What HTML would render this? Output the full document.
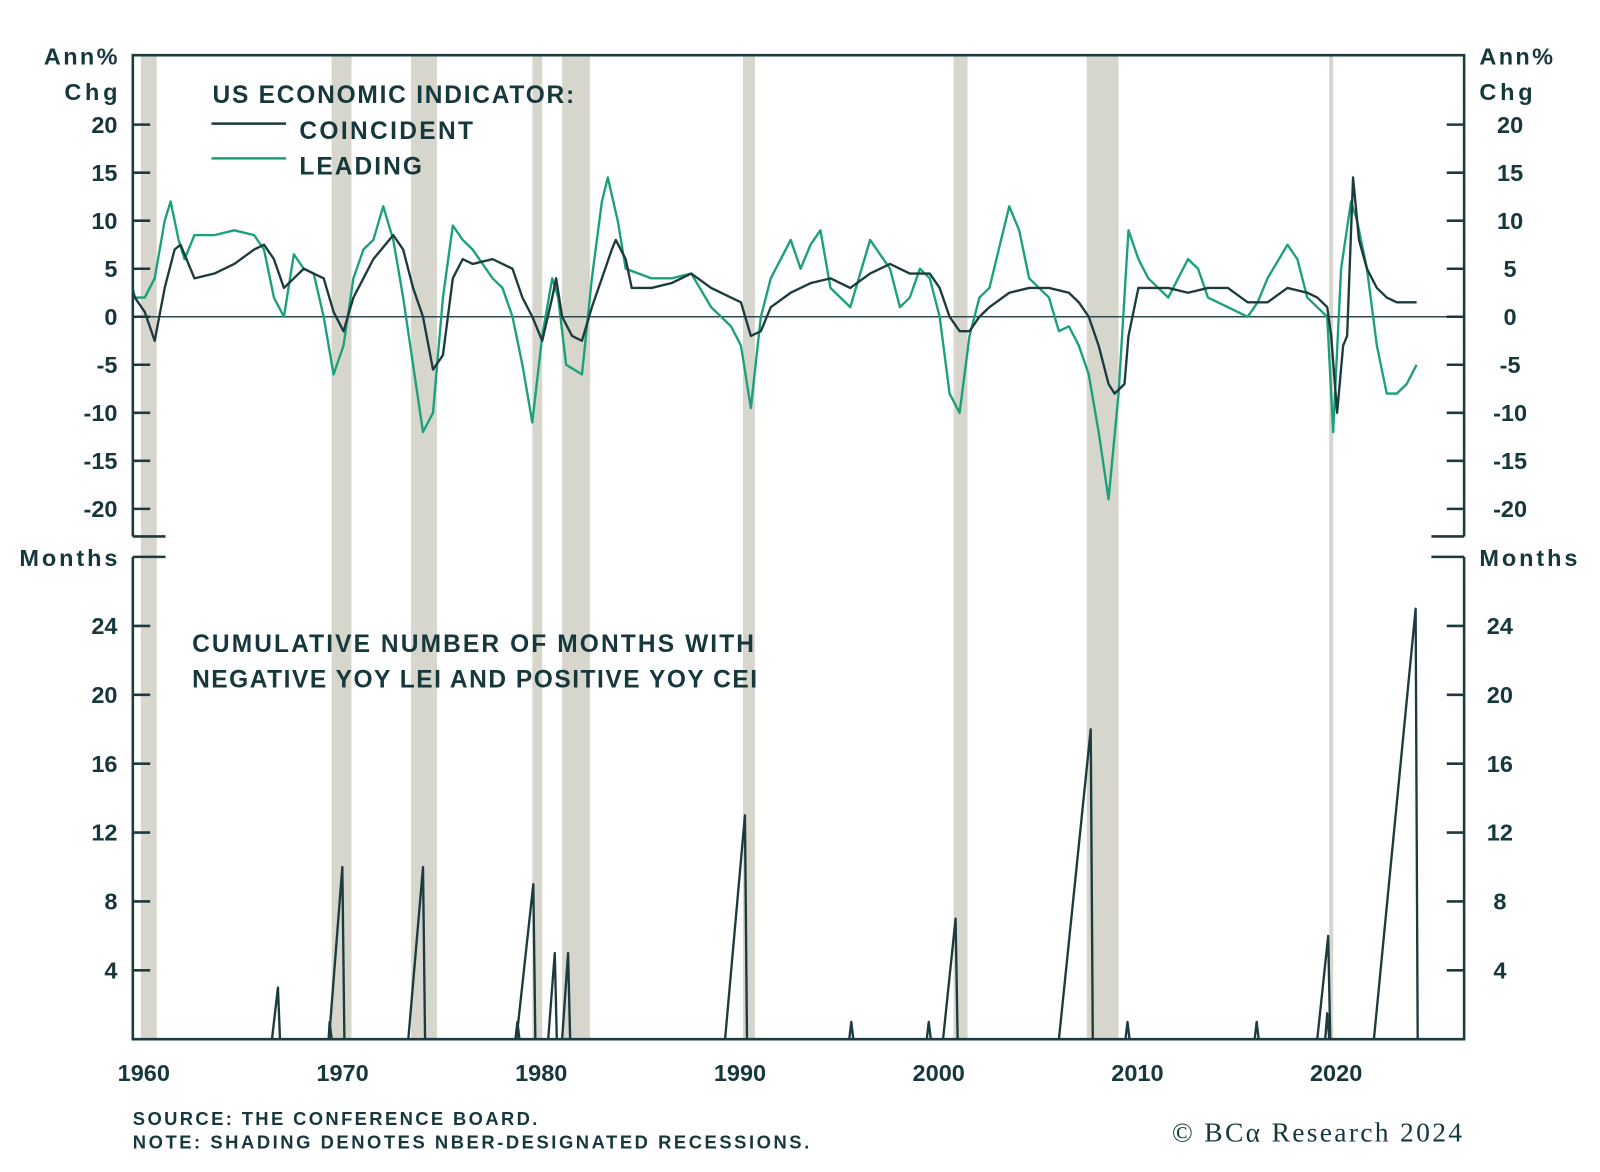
<!DOCTYPE html>
<html><head><meta charset="utf-8"><style>
html,body{margin:0;padding:0;background:#fff}
svg{display:block}
text{font-family:"Liberation Sans",sans-serif;fill:#16383d}
</style></head><body>
<svg id="chart" width="1600" height="1172" viewBox="0 0 1566 1147" preserveAspectRatio="none" xmlns="http://www.w3.org/2000/svg">
<defs>
<clipPath id="topClip"><rect x="130" y="54" width="1303" height="471"/></clipPath>
<clipPath id="botClip"><rect x="130" y="545" width="1303" height="472"/></clipPath>
</defs>
<g id="shading"></g>
<line x1="130" y1="310" x2="1433" y2="310" stroke="#2c4a50" stroke-width="1.5"/>
<g id="series" clip-path="url(#topClip)"></g>
<g id="spikes" clip-path="url(#botClip)"></g>
<g id="frame" stroke="#1d3a3f" stroke-width="2.5" fill="none">
<polyline points="130,525 130,54 1433,54 1433,525"/>
<line x1="130" y1="525" x2="162" y2="525"/>
<line x1="1401" y1="525" x2="1433" y2="525"/>
<line x1="130" y1="545" x2="162" y2="545"/>
<line x1="1401" y1="545" x2="1433" y2="545"/>
<polyline points="130,545 130,1017 1433,1017 1433,545"/>
</g>
<g id="ticks"></g>
<text x="115" y="63" text-anchor="end" font-size="23" font-weight="bold" textLength="72">Ann%</text>
<text x="115" y="98" text-anchor="end" font-size="23" font-weight="bold" textLength="52">Chg</text>
<text x="1448" y="63" font-size="23" font-weight="bold" textLength="72">Ann%</text>
<text x="1448" y="98" font-size="23" font-weight="bold" textLength="52">Chg</text>
<text x="115" y="554" text-anchor="end" font-size="23" font-weight="bold" textLength="96">Months</text>
<text x="1448" y="554" font-size="23" font-weight="bold" textLength="96">Months</text>
<g>
<text x="208" y="101" font-size="24" font-weight="bold" textLength="354">US ECONOMIC INDICATOR:</text>
<line x1="207" y1="121" x2="280" y2="121" stroke="#1d3a3f" stroke-width="2.5"/>
<text x="293" y="136" font-size="24" font-weight="bold" textLength="170">COINCIDENT</text>
<line x1="207" y1="155" x2="280" y2="155" stroke="#1aa07a" stroke-width="2.5"/>
<text x="293" y="171" font-size="24" font-weight="bold" textLength="120">LEADING</text>
</g>
<text x="188" y="638" font-size="24" font-weight="bold" textLength="550">CUMULATIVE NUMBER OF MONTHS WITH</text>
<text x="188" y="673" font-size="24" font-weight="bold" textLength="553">NEGATIVE YOY LEI AND POSITIVE YOY CEI</text>
<text x="130" y="1101" font-size="18" font-weight="bold" textLength="396">SOURCE: THE CONFERENCE BOARD.</text>
<text x="130" y="1124" font-size="18" font-weight="bold" textLength="662">NOTE: SHADING DENOTES NBER-DESIGNATED RECESSIONS.</text>
<text x="1431" y="1117" text-anchor="end" font-size="27" style="font-family:'Liberation Serif',serif" textLength="284">© BCα Research 2024</text>
</svg>
<script>
const recStart=[1960.3,1969.9,1973.9,1980.0,1981.5,1990.6,2001.2,2007.9,2020.1];
const recEnd=[1961.1,1970.9,1975.2,1980.5,1982.9,1991.2,2001.9,2009.5,2020.3];
const coinT=[1959.5,1960,1960.5,1961,1961.5,1962,1962.3,1963,1964,1965,1966,1966.5,1967,1967.5,1968,1968.5,1969,1969.5,1970,1970.5,1971,1971.5,1972,1973,1973.5,1974,1974.5,1975,1975.5,1976,1976.5,1977,1978,1979,1979.5,1980,1980.5,1981,1981.2,1981.5,1982,1982.5,1983,1983.5,1984,1984.2,1984.7,1985,1986,1987,1988,1989,1990,1990.5,1991,1991.5,1992,1993,1994,1995,1996,1997,1998,1999,2000,2000.5,2001,2001.5,2002,2002.5,2003,2004,2005,2006,2007,2007.5,2008,2008.5,2009,2009.3,2009.8,2010,2010.5,2011,2012,2013,2014,2015,2016,2017,2018,2019,2019.5,2020,2020.2,2020.5,2020.8,2021,2021.3,2021.6,2022,2022.5,2023,2023.5,2024,2024.5];
const coinV=[5,2,0.5,-2.5,3,7,7.5,4,4.5,5.5,7,7.5,6,3,4,5,4.5,4,0.5,-1.5,2,4,6,8.5,7,3,0,-5.5,-4,4,6,5.5,6,5,2,0,-2.5,2,4,0,-2,-2.5,1,4,7,8,6,3,3,3.5,4.5,3,2,1.5,-2,-1.5,1,2.5,3.5,4,3,4.5,5.5,4.5,4.5,3,0,-1.5,-1.5,0,1,2.5,3,3,2.5,1.5,0,-3,-7,-8,-7,-2,3,3,3,2.5,3,3,1.5,1.5,3,2.5,2,1,-2,-10,-3,-2,14.5,8,5,3,2,1.5,1.5,1.5];
const leadT=[1959.5,1960,1960.5,1961,1961.5,1961.8,1962.2,1962.5,1963,1964,1965,1966,1966.5,1967,1967.5,1968,1968.5,1969,1969.5,1970,1970.5,1971,1971.5,1972,1972.5,1973,1973.5,1974,1974.5,1975,1975.5,1976,1976.5,1977,1978,1978.5,1979,1979.5,1980,1980.5,1981,1981.3,1981.7,1982.5,1983,1983.5,1983.8,1984.3,1984.7,1986,1987,1988,1989,1990,1990.5,1991,1991.5,1992,1993,1993.5,1994,1994.5,1995,1996,1997,1998,1998.5,1999,1999.5,2000,2000.5,2001,2001.5,2002,2002.5,2003,2004,2004.5,2005,2006,2006.5,2007,2007.5,2008,2008.5,2009,2009.5,2010,2010.5,2011,2012,2013,2013.5,2014,2015,2016,2016.5,2017,2018,2018.5,2019,2020,2020.3,2020.7,2021.2,2021.5,2022,2022.5,2023,2023.5,2024,2024.5];
const leadV=[6.5,2,2,4,10,12,8,6,8.5,8.5,9,8.5,7,2,0,6.5,5,4.5,0,-6,-3,4,7,8,11.5,8,2,-5,-12,-10,2,9.5,8,7,4,3,0,-5,-11,-2,4,2,-5,-6,4,12,14.5,10,5,4,4,4.5,1,-1,-3,-9.5,0,4,8,5,7.5,9,3,1,8,5,1,2,5,4,0,-8,-10,-2,2,3,11.5,9,4,2,-1.5,-1,-3,-6,-12,-19,-8,9,6,4,2,6,5,2,1,0,1.5,4,7.5,6,2,0,-12,5,12,10,5,-3,-8,-8,-7,-5];
const spikeStart=[1966.9,1969.75,1969.77,1973.76,1979.15,1979.2,1980.8,1981.5,1989.7,1995.95,1999.85,2000.67,2006.5,2009.85,2016.35,2019.5,2019.9,2022.35];
const spikeEnd=[1967.2,1969.8,1970.44,1974.5,1979.25,1980.05,1981.13,1981.8,1990.7,1996.05,1999.95,2001.3,2008.1,2009.95,2016.45,2020.05,2020.0,2024.45];
const spikeVal=[3,1,10,10,1,9,5,5,13,1,1,7,18,1,1,6,1.5,25];
const topTicks=[20,15,10,5,0,-5,-10,-15,-20];
const botTicks=[4,8,12,16,20,24];
const xTicks=[1960,1970,1980,1990,2000,2010,2020];

const NS='http://www.w3.org/2000/svg';
const xS=t=>132+(t-1960)*19.45;
const yT=v=>310-v*9.4;
const yB=v=>1017-v*16.85;
function mk(tag,parent,attrs){const e=document.createElementNS(NS,tag);for(const k in attrs)e.setAttribute(k,attrs[k]);parent.appendChild(e);return e;}
const shade=document.getElementById('shading');
recStart.forEach((s,i)=>{
  const r=mk('rect',shade,{x:xS(s),y:54,width:xS(recEnd[i])-xS(s),height:963,fill:'#d6d6cc'});
  
  
});
const ser=document.getElementById('series');
function line(T,V,color,name){
  const d=T.map((t,i)=>(i?'L':'M')+xS(t).toFixed(1)+','+yT(V[i]).toFixed(1)).join('');
  const p=mk('path',ser,{d:d,fill:'none',stroke:color,'stroke-width':2.3,'stroke-linejoin':'round'});
  
  
}
line(leadT,leadV,'#1aa07a','leading-line');
line(coinT,coinV,'#1d3a3f','coincident-line');
const sp=document.getElementById('spikes');
spikeStart.forEach((s,i)=>{
  const e=spikeEnd[i];
  const d='M'+xS(s)+','+yB(0)+'L'+xS(e)+','+yB(spikeVal[i])+'L'+(xS(e)+2)+','+yB(0);
  const p=mk('path',sp,{d:d,fill:'none',stroke:'#1d3a3f','stroke-width':2.3,'stroke-linejoin':'round'});
  
  
});
const tk=document.getElementById('ticks');
topTicks.forEach(v=>{
  const y=yT(v);
  const a=mk('line',tk,{x1:130,y1:y,x2:147,y2:y,stroke:'#1d3a3f','stroke-width':2.5});
  
  
  const b=mk('line',tk,{x1:1416,y1:y,x2:1433,y2:y,stroke:'#1d3a3f','stroke-width':2.5});
  
  
  const l=mk('text',tk,{x:115,y:y+8,'text-anchor':'end','font-size':23,'font-weight':'bold'});l.textContent=v;
  
  
  const r=mk('text',tk,{x:1478,y:y+8,'text-anchor':'middle','font-size':23,'font-weight':'bold'});r.textContent=v;
  
  
});
botTicks.forEach(v=>{
  const y=yB(v);
  const a=mk('line',tk,{x1:130,y1:y,x2:147,y2:y,stroke:'#1d3a3f','stroke-width':2.5});
  
  
  const b=mk('line',tk,{x1:1416,y1:y,x2:1433,y2:y,stroke:'#1d3a3f','stroke-width':2.5});
  
  
  const l=mk('text',tk,{x:115,y:y+8,'text-anchor':'end','font-size':23,'font-weight':'bold'});l.textContent=v;
  
  
  const r=mk('text',tk,{x:1468,y:y+8,'text-anchor':'middle','font-size':23,'font-weight':'bold'});r.textContent=v;
  
  
});
xTicks.forEach(t=>{
  const l=mk('text',tk,{x:xS(t+0.45),y:1058,'text-anchor':'middle','font-size':23,'font-weight':'bold'});l.textContent=t;
  
  
});
</script>
</body></html>
